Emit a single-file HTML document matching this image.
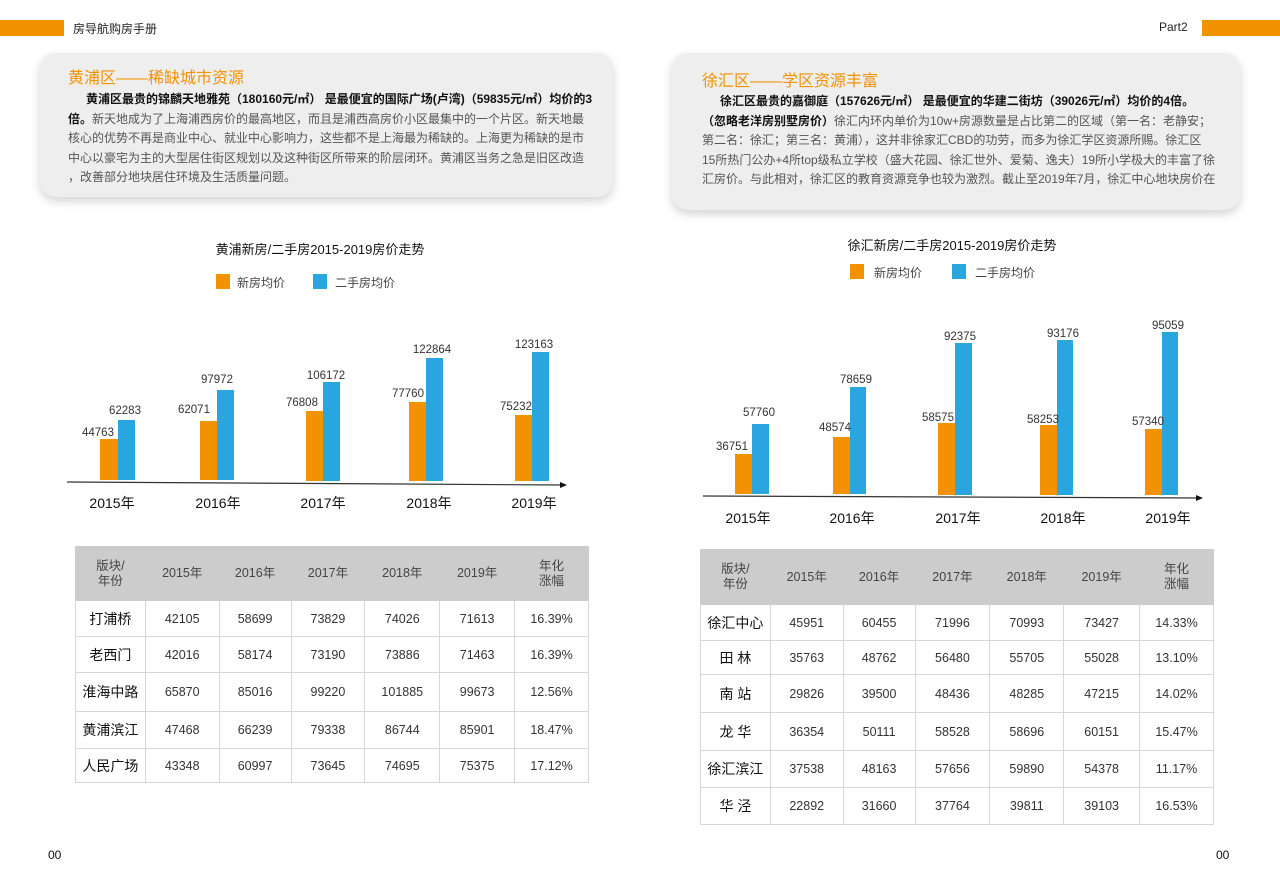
<!DOCTYPE html>
<html><head><meta charset="utf-8"><style>
*{margin:0;padding:0;box-sizing:border-box}
body{width:1280px;height:896px;background:#fff;position:relative;overflow:hidden;font-family:"Liberation Sans","Noto Sans CJK SC",sans-serif;color:#222}
.a{position:absolute;white-space:nowrap}
.box{position:absolute;background:#eeeeee;border-radius:16px;box-shadow:0 4px 10px rgba(0,0,0,0.18)}
.ttl{color:#f39200;font-size:16px}
.body{font-size:12px;line-height:19.5px;color:#555}
.body b{color:#111}
table{position:absolute;border-collapse:collapse;font-size:12.5px;color:#333}
td{border:1px solid #d6d6d6;text-align:center;vertical-align:middle;padding:0}
tr.h td{background:#cbcccb;border-color:#cbcccb;color:#444;line-height:15px}
td.n{font-size:14px;color:#111}
</style></head><body>
<div class="a" style="left:0;top:20px;width:64px;height:16px;background:#f39200"></div>
<div class="a" style="left:73px;top:20px;font-size:12px;color:#222">房导航购房手册</div>
<div class="a" style="left:1159px;top:20px;font-size:12px;color:#222">Part2</div>
<div class="a" style="left:1202px;top:20px;width:78px;height:16px;background:#f39200"></div>

<div class="box" style="left:40px;top:53px;width:573px;height:144px"></div>
<div class="a ttl" style="left:68px;top:64px">黄浦区——稀缺城市资源</div>
<div class="a body" style="left:68px;top:90px"><b>&#12288;&#8194;黄浦区最贵的锦麟天地雅苑（180160元/㎡） 是最便宜的国际广场(卢湾)（59835元/㎡）均价的3</b><br><b>倍。</b>新天地成为了上海浦西房价的最高地区，而且是浦西高房价小区最集中的一个片区。新天地最<br>核心的优势不再是商业中心、就业中心影响力，这些都不是上海最为稀缺的。上海更为稀缺的是市<br>中心以豪宅为主的大型居住街区规划以及这种街区所带来的阶层闭环。黄浦区当务之急是旧区改造<br>，改善部分地块居住环境及生活质量问题。</div>

<div class="box" style="left:672px;top:53px;width:568px;height:157px"></div>
<div class="a ttl" style="left:702px;top:67px">徐汇区——学区资源丰富</div>
<div class="a body" style="left:702px;top:92px"><b>&#12288;&#8194;徐汇区最贵的嘉御庭（157626元/㎡） 是最便宜的华建二街坊（39026元/㎡）均价的4倍。</b><br><b>（忽略老洋房别墅房价）</b>徐汇内环内单价为10w+房源数量是占比第二的区域（第一名：老静安；<br>第二名：徐汇；第三名：黄浦），这并非徐家汇CBD的功劳，而多为徐汇学区资源所赐。徐汇区<br>15所热门公办+4所top级私立学校（盛大花园、徐汇世外、爱菊、逸夫）19所小学极大的丰富了徐<br>汇房价。与此相对，徐汇区的教育资源竞争也较为激烈。截止至2019年7月，徐汇中心地块房价在</div>

<svg class="a" style="left:0;top:0" width="1280" height="896" font-family="Liberation Sans, Noto Sans CJK SC, sans-serif">
<g font-size="13" fill="#111">
<text x="320" y="254" text-anchor="middle">黄浦新房/二手房2015-2019房价走势</text>
<text x="952" y="250" text-anchor="middle">徐汇新房/二手房2015-2019房价走势</text>
</g>
<g font-size="12" fill="#444">
<rect x="216" y="274" width="14" height="15" fill="#f39200"/><text x="237" y="287">新房均价</text>
<rect x="313" y="274" width="14" height="15" fill="#29a6e0"/><text x="335" y="287">二手房均价</text>
<rect x="850" y="264" width="14" height="15" fill="#f39200"/><text x="874" y="277">新房均价</text>
<rect x="952" y="264" width="14" height="15" fill="#29a6e0"/><text x="975" y="277">二手房均价</text>
</g>
<g fill="#f39200">
<rect x="100" y="439" width="18" height="41"/><rect x="200" y="421" width="17" height="59"/><rect x="306" y="411" width="17" height="70"/><rect x="409" y="402" width="17" height="79"/><rect x="515" y="415" width="17" height="66"/>
<rect x="735" y="454" width="17" height="40"/><rect x="833" y="437" width="17" height="57"/><rect x="938" y="423" width="17" height="72"/><rect x="1040" y="425" width="17" height="70"/><rect x="1145" y="429" width="17" height="66"/>
</g>
<g fill="#29a6e0">
<rect x="118" y="420" width="17" height="60"/><rect x="217" y="390" width="17" height="90"/><rect x="323" y="382" width="17" height="99"/><rect x="426" y="358" width="17" height="123"/><rect x="532" y="352" width="17" height="129"/>
<rect x="752" y="424" width="17" height="70"/><rect x="850" y="387" width="16" height="107"/><rect x="955" y="343" width="17" height="152"/><rect x="1057" y="340" width="16" height="155"/><rect x="1162" y="332" width="16" height="163"/>
</g>
<g stroke="#333" stroke-width="1.2"><line x1="67" y1="482" x2="562" y2="485"/><line x1="703" y1="496" x2="1198" y2="498"/></g>
<polygon points="560,482 567,485 560,488" fill="#111"/><polygon points="1196,495 1203,498 1196,501" fill="#111"/>
<g font-size="11.5" fill="#333" text-anchor="middle">
<text x="98" y="436">44763</text><text x="125" y="414">62283</text>
<text x="194" y="413">62071</text><text x="217" y="383">97972</text>
<text x="302" y="406">76808</text><text x="326" y="379">106172</text>
<text x="408" y="397">77760</text><text x="432" y="353">122864</text>
<text x="516" y="410">75232</text><text x="534" y="348">123163</text>
<text x="732" y="450">36751</text><text x="759" y="416">57760</text>
<text x="835" y="431">48574</text><text x="856" y="383">78659</text>
<text x="938" y="421">58575</text><text x="960" y="340">92375</text>
<text x="1043" y="423">58253</text><text x="1063" y="337">93176</text>
<text x="1148" y="425">57340</text><text x="1168" y="329">95059</text>
</g>
<g font-size="14" fill="#111" text-anchor="middle">
<text x="112" y="508">2015年</text><text x="218" y="508">2016年</text><text x="323" y="508">2017年</text><text x="429" y="508">2018年</text><text x="534" y="508">2019年</text>
<text x="748" y="523">2015年</text><text x="852" y="523">2016年</text><text x="958" y="523">2017年</text><text x="1063" y="523">2018年</text><text x="1168" y="523">2019年</text>
</g>
<g font-size="12" fill="#111"><text x="48" y="859">00</text><text x="1216" y="859">00</text></g>
</svg>

<table style="left:75px;top:546px;width:514px">
<colgroup><col style="width:70px"><col style="width:74px"><col style="width:72px"><col style="width:74px"><col style="width:75px"><col style="width:75px"><col style="width:74px"></colgroup>
<tr class="h" style="height:54px"><td>版块/<br>年份</td><td>2015年</td><td>2016年</td><td>2017年</td><td>2018年</td><td>2019年</td><td>年化<br>涨幅</td></tr>
<tr style="height:36px"><td class="n">打浦桥</td><td>42105</td><td>58699</td><td>73829</td><td>74026</td><td>71613</td><td>16.39%</td></tr>
<tr style="height:36px"><td class="n">老西门</td><td>42016</td><td>58174</td><td>73190</td><td>73886</td><td>71463</td><td>16.39%</td></tr>
<tr style="height:39px"><td class="n">淮海中路</td><td>65870</td><td>85016</td><td>99220</td><td>101885</td><td>99673</td><td>12.56%</td></tr>
<tr style="height:37px"><td class="n">黄浦滨江</td><td>47468</td><td>66239</td><td>79338</td><td>86744</td><td>85901</td><td>18.47%</td></tr>
<tr style="height:34px"><td class="n">人民广场</td><td>43348</td><td>60997</td><td>73645</td><td>74695</td><td>75375</td><td>17.12%</td></tr>
</table>

<table style="left:700px;top:549px;width:514px">
<colgroup><col style="width:70px"><col style="width:73px"><col style="width:72px"><col style="width:75px"><col style="width:74px"><col style="width:76px"><col style="width:74px"></colgroup>
<tr class="h" style="height:55px"><td>版块/<br>年份</td><td>2015年</td><td>2016年</td><td>2017年</td><td>2018年</td><td>2019年</td><td>年化<br>涨幅</td></tr>
<tr style="height:36px"><td class="n">徐汇中心</td><td>45951</td><td>60455</td><td>71996</td><td>70993</td><td>73427</td><td>14.33%</td></tr>
<tr style="height:34px"><td class="n">田 林</td><td>35763</td><td>48762</td><td>56480</td><td>55705</td><td>55028</td><td>13.10%</td></tr>
<tr style="height:38px"><td class="n">南 站</td><td>29826</td><td>39500</td><td>48436</td><td>48285</td><td>47215</td><td>14.02%</td></tr>
<tr style="height:38px"><td class="n">龙 华</td><td>36354</td><td>50111</td><td>58528</td><td>58696</td><td>60151</td><td>15.47%</td></tr>
<tr style="height:37px"><td class="n">徐汇滨江</td><td>37538</td><td>48163</td><td>57656</td><td>59890</td><td>54378</td><td>11.17%</td></tr>
<tr style="height:37px"><td class="n">华 泾</td><td>22892</td><td>31660</td><td>37764</td><td>39811</td><td>39103</td><td>16.53%</td></tr>
</table>
</body></html>
